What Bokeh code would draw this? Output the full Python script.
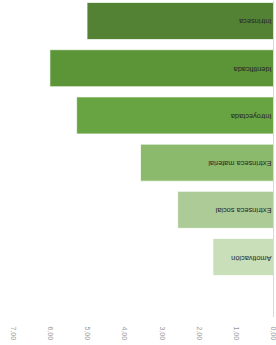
from math import pi
from bokeh.plotting import figure
from bokeh.models import (ColumnDataSource, Range1d, FixedTicker, Span,
                          CustomJSTickFormatter)
from bokeh.core.properties import value
from bokeh.embed import file_html
from bokeh.resources import INLINE

categories = ["Intrínseca", "Identificada", "Introyectada",
              "Extrínseca material", "Extrínseca social", "Amotivación"]
values = [5.02, 6.02, 5.30, 3.58, 2.58, 1.63]
colors = ["#548235", "#5c9438", "#69a443", "#8cba6d", "#adcb97", "#c9dfb9"]
ticks = [0, 1, 2, 3, 4, 5, 6, 7]

pos = list(range(len(categories)))
src = ColumnDataSource(dict(cat=categories, val=values, col=colors, pos=pos,
                            zero=[0] * len(categories)))

p = figure(width=276, height=345, output_backend="svg", toolbar_location=None,
           x_range=Range1d(7.35, -0.081), y_range=Range1d(6.28, -0.434),
           min_border_left=0, min_border_right=0, min_border_top=0,
           min_border_bottom=28)
p.outline_line_color = None
p.xgrid.grid_line_color = None
p.ygrid.grid_line_color = None
p.yaxis.visible = False

p.hbar(y="pos", left="zero", right="val", height=0.784, fill_color="col",
       line_color="white", line_alpha=0.7, line_width=1, source=src)

p.add_layout(Span(location=0, dimension="height", line_color="#d9d9d9",
                  line_width=1))

p.text(x="zero", y="pos", text="cat", angle=pi, x_offset=-2, y_offset=1,
       text_align="left", text_baseline="middle",
       text_font=value("Liberation Sans"), text_font_size="7.4px",
       text_color="#262626", source=src)

p.xaxis.ticker = FixedTicker(ticks=ticks)
p.xaxis.formatter = CustomJSTickFormatter(
    code="return tick.toFixed(2).replace('.', ',');")
p.xaxis.major_label_orientation = -pi / 2
p.xaxis.axis_line_color = None
p.xaxis.major_tick_line_color = None
p.xaxis.minor_tick_line_color = None
p.xaxis.major_label_standoff = 3
p.xaxis.major_label_text_font = "Liberation Sans"
p.xaxis.major_label_text_font_size = "7px"
p.xaxis.major_label_text_color = "#999999"

open("out.html", "w").write(file_html(p, INLINE))
